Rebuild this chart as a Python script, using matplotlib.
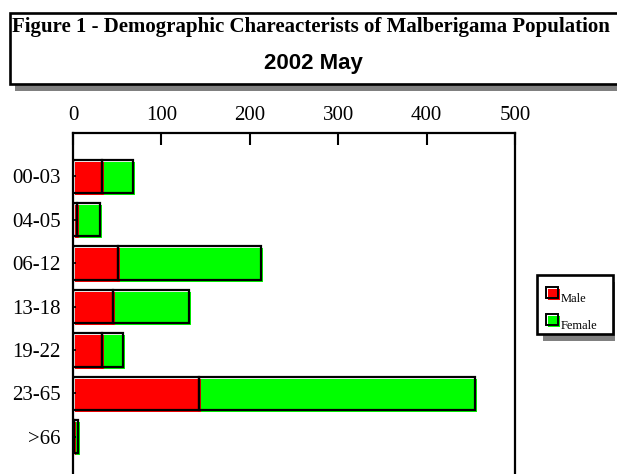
import numpy as np
import matplotlib
matplotlib.use('Agg')
import matplotlib.pyplot as plt
from matplotlib import transforms
from matplotlib.patches import Rectangle

# data
groups = ['00-03', '04-05', '06-12', '13-18', '19-22', '23-65', '>66']
male = [33, 5, 51, 45, 33, 142, 1]
female = [35, 25, 162, 86, 23, 313, 5]
series = ['Male', 'Female']
colors = ['#ff0000', '#00ff00']

W, H = 617, 474
fig = plt.figure(figsize=(W / 100, H / 100), dpi=100)


def box(x0, y0, x1, y1):
    # pixel box (top-left origin) -> figure fraction (x, y, w, h)
    return x0 / W, 1 - y1 / H, (x1 - x0) / W, (y1 - y0) / H


def rect(x0, y0, x1, y1, **kw):
    x, y, w, h = box(x0, y0, x1, y1)
    r = Rectangle((x, y), w, h, transform=fig.transFigure, **kw)
    fig.add_artist(r)
    return r


# title box with shadow
rect(15, 20, 640, 91, facecolor='#808080', edgecolor='none', zorder=1)
rect(10, 13, 635, 84, facecolor='white', edgecolor='black', lw=1.9, zorder=2)
fig.text(311 / W, 1 - 32 / H, 'Figure 1 - Demographic Chareacterists of Malberigama Population',
         family='Liberation Serif', weight='bold', fontsize=15, ha='center', va='baseline', zorder=3)
fig.text(313 / W, 1 - 69 / H, '2002 May', family='Liberation Sans', weight='bold',
         fontsize=16, ha='center', va='baseline', zorder=3)

# main axes
top, bot = 133, 480
ax = fig.add_axes([73 / W, 1 - bot / H, (515 - 73) / W, (bot - top) / H])
y = np.arange(len(groups))
shift = transforms.offset_copy(ax.transData, fig=fig, x=2, y=-2, units='dots')

fills = [ax.barh(y, male, height=0.77, color=colors[0], lw=0),
         ax.barh(y, female, left=male, height=0.77, color=colors[1], lw=0)]
for bars in fills:
    for p in bars:
        p.set_transform(shift)
ax.barh(y, male, height=0.77, fill=False, edgecolor='black', lw=1.6)
ax.barh(y, female, left=male, height=0.77, fill=False, edgecolor='black', lw=1.6)

ax.set_xlim(0, 500)
ax.set_ylim(7, -1)
ax.xaxis.tick_top()
ax.set_xticks([0, 100, 200, 300, 400, 500])
ax.set_yticks(y)
ax.set_yticklabels(groups)
ax.tick_params(axis='x', direction='in', length=8.5, width=1.5, pad=6)
ax.tick_params(axis='y', direction='in', length=2, width=1.2, pad=9)
for lab in ax.get_xticklabels() + ax.get_yticklabels():
    lab.set_family('Liberation Serif')
    lab.set_fontsize(15)
for s in ['top', 'left', 'right']:
    ax.spines[s].set_linewidth(1.6)
ax.spines['bottom'].set_visible(False)

# legend box
rect(543, 282, 615, 341, facecolor='#808080', edgecolor='none', zorder=1)
rect(537, 275, 613, 334, facecolor='white', edgecolor='black', lw=1.9, zorder=2)
for i, (name, c) in enumerate(zip(series, colors)):
    yy = 287 + 27 * i
    rect(548, yy + 2, 560, yy + 13, facecolor=c, edgecolor='none', zorder=3)
    rect(546, yy, 558, yy + 11, facecolor='none', edgecolor='black', lw=1.4, zorder=4)
    fig.text(561 / W, 1 - (yy + 15) / H, name, family='Liberation Serif',
             fontsize=9, ha='left', va='baseline', zorder=4)

fig.savefig('out.png', dpi=100)
